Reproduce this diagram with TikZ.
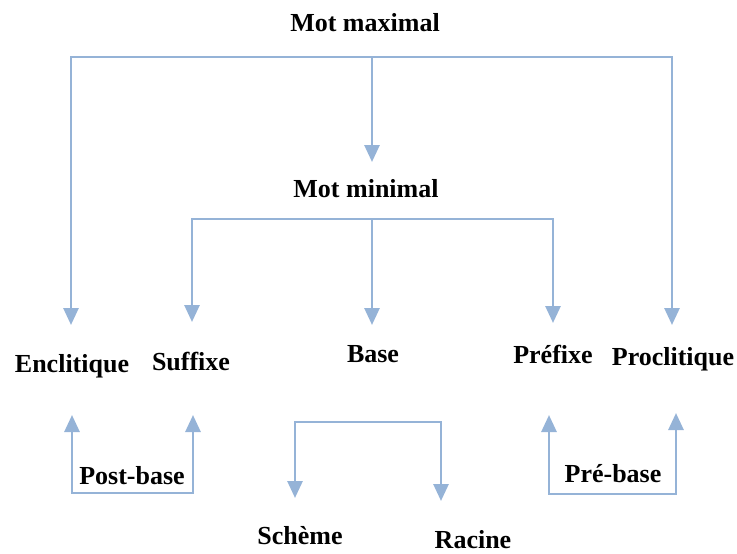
\documentclass[tikz,border=0pt]{standalone}
\usepackage{fontspec}
\setmainfont{Liberation Serif}
\usetikzlibrary{arrows.meta}
\definecolor{linkblue}{HTML}{95B3D7}
\begin{document}
\begin{tikzpicture}[x=1pt,y=-1pt,
  lbl/.style={font=\fontsize{26}{28}\selectfont\bfseries, inner sep=0pt, anchor=base},
  link/.style={draw=linkblue, line width=2.8pt, line cap=rect},
  arr/.style={link, -{Triangle[width=15pt,length=17pt]}}]
\useasboundingbox (0,0) rectangle (737,554);

% labels
\node[lbl] (maxw) at (365,31)  {Mot maximal};
\node[lbl] (minw) at (366,197) {Mot minimal};
\node[lbl] (encl) at (72,372)  {Enclitique};
\node[lbl] (suff) at (191,370) {Suffixe};
\node[lbl] (base) at (373,362) {Base};
\node[lbl] (pref) at (553,363) {Préfixe};
\node[lbl] (procl) at (673,365) {Proclitique};
\node[lbl] (postb) at (132,484) {Post-base};
\node[lbl] (preb) at (613,482) {Pré-base};
\node[lbl] (scheme) at (300,544) {Schème};
\node[lbl] (racine) at (473,548) {Racine};

% junction points and arrow tips
\coordinate (tL) at (71,57);  \coordinate (tC) at (372,57);  \coordinate (tR) at (672,57);
\coordinate (minTip) at (372,162);
\coordinate (enclTip) at (71,325);
\coordinate (proclTip) at (672,325);
\coordinate (mL) at (192,219); \coordinate (mC) at (372,221); \coordinate (mR) at (553,219);
\coordinate (suffTip) at (192,322);
\coordinate (baseTip) at (372,325);
\coordinate (prefTip) at (553,323);
\coordinate (poL) at (72,493); \coordinate (poR) at (193,493);
\coordinate (poLTip) at (72,415); \coordinate (poRTip) at (193,415);
\coordinate (bL) at (295,422); \coordinate (bR) at (441,422);
\coordinate (schTip) at (295,498); \coordinate (racTip) at (441,501);
\coordinate (prL) at (549,494); \coordinate (prR) at (676,494);
\coordinate (prLTip) at (549,415); \coordinate (prRTip) at (676,413);

% Mot maximal
\draw[arr] (tR) -- (tL) -- (enclTip);
\draw[arr] (tR) -- (proclTip);
\draw[arr] (tC) -- (minTip);

% Mot minimal
\draw[arr] (mR) -- (mL) -- (suffTip);
\draw[arr] (mR) -- (prefTip);
\draw[arr] (mC) -- (baseTip);

% Post-base
\draw[arr] (poR) -- (poL) -- (poLTip);
\draw[arr] (poR) -- (poRTip);

% Base
\draw[arr] (bR) -- (bL) -- (schTip);
\draw[arr] (bR) -- (racTip);

% Pré-base
\draw[arr] (prR) -- (prL) -- (prLTip);
\draw[arr] (prR) -- (prRTip);
\end{tikzpicture}
\end{document}
